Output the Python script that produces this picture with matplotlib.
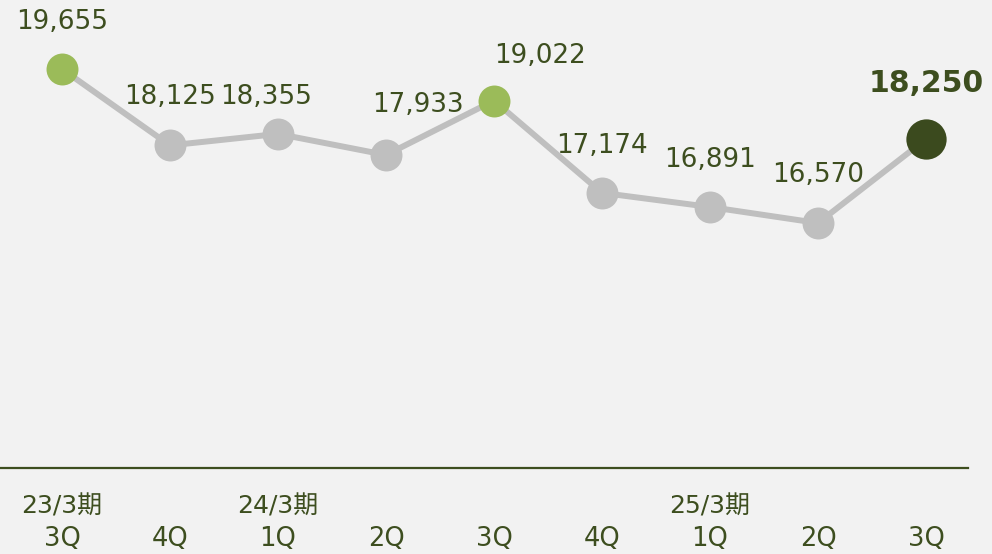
import matplotlib
matplotlib.use("Agg")
import matplotlib.pyplot as plt

# ---- data ----
quarters = ["3Q", "4Q", "1Q", "2Q", "3Q", "4Q", "1Q", "2Q", "3Q"]
periods = ["23/3期", "", "24/3期", "", "", "", "25/3期", "", ""]
values = [19655, 18125, 18355, 17933, 19022, 17174, 16891, 16570, 18250]
point_kind = ["hi", "n", "n", "n", "hi", "n", "n", "n", "last"]

# ---- style ----
BG = "#f2f2f2"
GRAY = "#bfbfbf"
GREEN = "#9bbb59"
DARK = "#3b4a1e"
TXT = "#3d4e1f"
FONT = ["DejaVu Sans", "Noto Sans CJK JP"]
plt.rcParams["font.family"] = FONT

# label offsets in pixels (dx, dy above point)
label_off = [(0, 47), (0, 48), (-12, 37), (32, 50), (46, 45),
             (0, 47), (0, 47), (0, 48), (0, 56)]

W, H, DPI = 992, 554, 100
fig = plt.figure(figsize=(W / DPI, H / DPI), dpi=DPI, facecolor=BG)
ax = fig.add_axes([0, 0, 1, 1])
ax.set_facecolor(BG)

px_per_i = 108.0
x0 = 62.0
ax.set_xlim(-x0 / px_per_i, (W - x0) / px_per_i)
vpp = 20.03
vtop = 19655 + 69 * vpp
vbot = 19655 - (H - 69) * vpp
ax.set_ylim(vbot, vtop)
ax.axis("off")

xs = list(range(len(values)))
ax.plot(xs, values, color=GRAY, lw=4.3, zorder=1, solid_capstyle="round")
for x, v, k in zip(xs, values, point_kind):
    if k == "n":
        ax.plot(x, v, "o", ms=23, color=GRAY, mec="none", zorder=2)
    elif k == "hi":
        ax.plot(x, v, "o", ms=23, color=GREEN, mec="none", zorder=2)
    else:
        ax.plot(x, v, "o", ms=29, color=DARK, mec="none", zorder=2)

for x, v, k, (dx, dy) in zip(xs, values, point_kind, label_off):
    bold = k == "last"
    ax.annotate(f"{v:,}", (x, v), xytext=(dx * 0.72, dy * 0.72), textcoords="offset points",
                ha="center", va="center", color=TXT,
                fontsize=21.5 if bold else 18.9, fontweight="bold" if bold else "normal")

# baseline
base_val = 19655 - (468 - 69) * vpp
ax.axhline(base_val, xmin=0, xmax=968 / W, color=TXT, lw=1.6)

# x labels
y_q = 19655 - (539 - 69) * vpp
y_p = 19655 - (506 - 69) * vpp
for x, q, p in zip(xs, quarters, periods):
    ax.text(x, y_q, q, ha="center", va="center", color=TXT, fontsize=18.5)
    if p:
        ax.text(x, y_p, p, ha="center", va="center", color=TXT, fontsize=18,
                family=FONT)

fig.savefig("out.png", dpi=DPI, facecolor=BG)
